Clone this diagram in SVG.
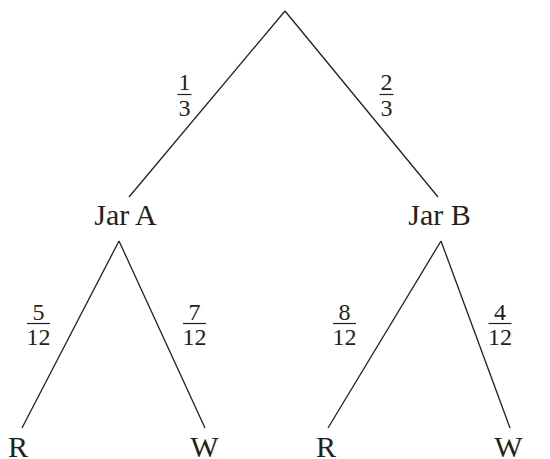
<svg xmlns="http://www.w3.org/2000/svg" width="550" height="459" viewBox="0 0 550 459">
  <style>
    .edge { stroke: #231f20; stroke-width: 1.3; fill: none; }
    .lbl { font-family: "Liberation Serif", "Times New Roman", serif; font-size: 30px; fill: #231f20; text-anchor: middle; }
    .num { font-family: "Liberation Serif", "Times New Roman", serif; font-size: 24px; fill: #231f20; text-anchor: middle; }
    .bar { stroke: #231f20; stroke-width: 1.2; }
  </style>
  <rect width="550" height="459" fill="#ffffff"/>

  <!-- branches -->
  <g id="connectors">
    <line class="edge" x1="285" y1="11" x2="129" y2="197"/>
    <line class="edge" x1="285" y1="11" x2="438" y2="197"/>
    <line class="edge" x1="119" y1="241" x2="22" y2="428"/>
    <line class="edge" x1="119" y1="241" x2="205" y2="428"/>
    <line class="edge" x1="441" y1="241" x2="328" y2="428"/>
    <line class="edge" x1="441" y1="241" x2="510" y2="428"/>
  </g>

  <!-- branch probabilities -->
  <g id="prob-1-3">
    <text class="num" x="184.5" y="90">1</text>
    <line class="bar" x1="177.5" y1="94.5" x2="191.5" y2="94.5"/>
    <text class="num" x="184.5" y="116">3</text>
  </g>
  <g id="prob-2-3">
    <text class="num" x="386.5" y="90">2</text>
    <line class="bar" x1="379.5" y1="94.5" x2="393.5" y2="94.5"/>
    <text class="num" x="386.5" y="116">3</text>
  </g>
  <g id="prob-5-12">
    <text class="num" x="38.5" y="320">5</text>
    <line class="bar" x1="27" y1="323.5" x2="50" y2="323.5"/>
    <text class="num" x="38.5" y="345">12</text>
  </g>
  <g id="prob-7-12">
    <text class="num" x="194.5" y="320">7</text>
    <line class="bar" x1="183" y1="323.5" x2="206" y2="323.5"/>
    <text class="num" x="194.5" y="345">12</text>
  </g>
  <g id="prob-8-12">
    <text class="num" x="344.5" y="320">8</text>
    <line class="bar" x1="333" y1="323.5" x2="356" y2="323.5"/>
    <text class="num" x="344.5" y="345">12</text>
  </g>
  <g id="prob-4-12">
    <text class="num" x="500" y="320">4</text>
    <line class="bar" x1="488.5" y1="323.5" x2="511.5" y2="323.5"/>
    <text class="num" x="500" y="345">12</text>
  </g>

  <!-- nodes -->
  <g id="jar-a"><text class="lbl" x="125.5" y="225">Jar A</text></g>
  <g id="jar-b"><text class="lbl" x="439.5" y="225">Jar B</text></g>
  <g id="a-red"><text class="lbl" x="18" y="457">R</text></g>
  <g id="a-white"><text class="lbl" x="204.5" y="457">W</text></g>
  <g id="b-red"><text class="lbl" x="326" y="457">R</text></g>
  <g id="b-white"><text class="lbl" x="508.5" y="457">W</text></g>
</svg>
